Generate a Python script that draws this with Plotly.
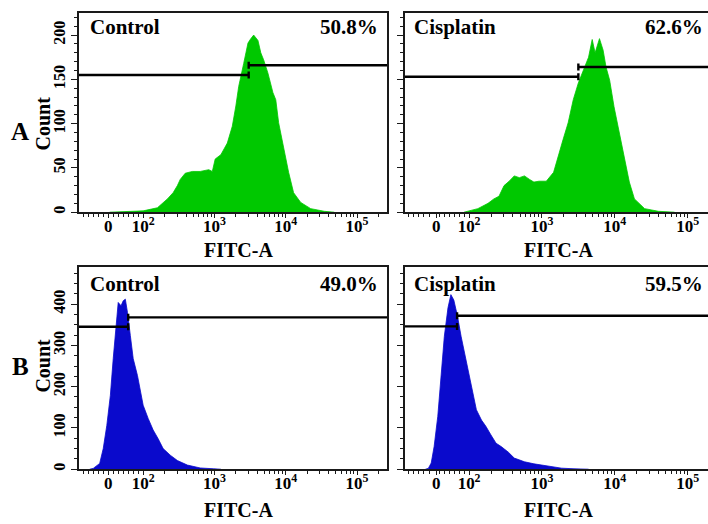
import math
import plotly.graph_objects as go

# ---------------- data (x = position on biexponential FITC-A axis, in decades) ----------------
a_ctrl_pos = [1.53, 1.86, 2.00, 2.20, 2.34, 2.42, 2.48, 2.52, 2.59, 2.69, 2.80, 2.92, 2.97, 3.01, 3.09,
              3.18, 3.25, 3.30, 3.34, 3.41, 3.47, 3.51, 3.55, 3.61, 3.65, 3.69, 3.75, 3.82, 3.86, 3.90,
              3.97, 4.04, 4.11, 4.21, 4.35, 4.54, 4.68]
a_ctrl_cnt = [0, 1, 1.5, 5, 15, 22, 30, 37, 44, 46, 46, 48, 46, 60, 65,
              78, 97, 120, 142, 168, 191, 196, 200, 194, 180, 172, 157, 135, 127, 101,
              71, 45, 22, 11, 4, 1, 0]

a_cis_pos = [1.93, 2.12, 2.26, 2.34, 2.41, 2.48, 2.55, 2.62, 2.69, 2.76, 2.83, 2.89, 2.96, 3.06, 3.16,
             3.22, 3.29, 3.36, 3.43, 3.50, 3.57, 3.64, 3.69, 3.73, 3.79, 3.84, 3.88, 3.93, 3.99, 4.06,
             4.13, 4.20, 4.27, 4.41, 4.60, 4.82]
a_cis_cnt = [0, 4, 10, 15, 18, 30, 35, 41, 39, 41, 37, 34, 35, 35, 45,
             63, 82, 101, 127, 146, 161, 175, 195, 180, 196, 183, 164, 149, 119, 90,
             60, 34, 15, 4, 1, 0]

b_ctrl_pos = [1.25, 1.30, 1.39, 1.44, 1.49, 1.54, 1.58, 1.62, 1.65, 1.69, 1.72, 1.75, 1.78, 1.82,
              1.86, 1.92, 1.96, 2.00, 2.07, 2.14, 2.21, 2.28, 2.38, 2.48, 2.62, 2.80, 2.99, 3.09]
b_ctrl_cnt = [0, 2, 14, 50, 106, 179, 268, 355, 404, 396, 408, 412, 380, 324,
              268, 227, 195, 155, 123, 95, 74, 50, 34, 21, 10, 3, 1, 0]

b_cis_pos = [1.40, 1.44, 1.48, 1.52, 1.57, 1.62, 1.66, 1.71, 1.75, 1.79, 1.84, 1.89, 1.96, 2.03,
             2.10, 2.17, 2.23, 2.30, 2.37, 2.44, 2.54, 2.62, 2.76, 2.89, 3.09, 3.27, 3.44, 3.64]
b_cis_cnt = [0, 2, 15, 55, 128, 225, 322, 391, 423, 410, 371, 322, 265, 209,
             144, 119, 104, 83, 63, 55, 41, 27, 18, 13, 7, 2.5, 1, 0]

panel_names = ["Control", "Cisplatin", "Control", "Cisplatin"]
panel_pcts = ["50.8%", "62.6%", "49.0%", "59.5%"]
# gate marker: position, left-bar level, right-bar level
gate_pos = [3.48, 3.50, 1.79, 1.835]
gate_left = [155, 153, 345, 346]
gate_right = [166, 164, 368, 372]

tick_labels = ["0", "10<sup>2</sup>", "10<sup>3</sup>", "10<sup>4</sup>", "10<sup>5</sup>"]

# ---------------- layout constants ----------------
W, H = 708, 524
FONT = "Liberation Serif"
GREEN = "#00c800"
BLUE = "#0a0acc"
AXC = "#1a1a1a"

xdom_l = [79 / W, 387 / W]
xdom_r = [405 / W, 1.0]
ydom_t = [1 - 213 / H, 1 - 13 / H]
ydom_b = [1 - 471 / H, 1 - 268 / H]
xrng_l = [1.10, 5.42]
xrng_r = [1.12, 5.28]
yrng_a = [0, 225]
yrng_b = [0, 490]
zero_l, zero_r = 1.51, 1.55

series = [
    (a_ctrl_pos, a_ctrl_cnt, GREEN, "x", "y", xrng_l, 4),
    (a_cis_pos, a_cis_cnt, GREEN, "x2", "y2", xrng_r, 4),
    (b_ctrl_pos, b_ctrl_cnt, BLUE, "x3", "y3", xrng_l, 8.5),
    (b_cis_pos, b_cis_cnt, BLUE, "x4", "y4", xrng_r, 8.5),
]

fig = go.Figure()
for i, (xs, ys, col, xa, ya, xr, cap) in enumerate(series):
    fig.add_trace(go.Scatter(x=xs, y=ys, mode="lines", fill="tozeroy",
                             line=dict(color=col, width=0.8), fillcolor=col,
                             xaxis=xa, yaxis=ya, showlegend=False, hoverinfo="skip"))
    g, yl, yr = gate_pos[i], gate_left[i], gate_right[i]
    gx = [xr[0], g, None, g, g, None, g, xr[1], None, g, g]
    gy = [yl, yl, None, yl - cap, yl + cap, None, yr, yr, None, yr - cap, yr + cap]
    fig.add_trace(go.Scatter(x=gx, y=gy, mode="lines", line=dict(color="black", width=2.4),
                             xaxis=xa, yaxis=ya, showlegend=False, hoverinfo="skip",
                             cliponaxis=False))


def minor_x():
    vals = [1.17, 1.24, 1.31, 1.38, 1.45, 1.59, 1.66, 1.73, 1.80, 1.87, 1.93]
    for n in range(2, 6):
        for k in range(2, 10):
            vals.append(math.log10(k * 10 ** n))
    return vals


tickfont = dict(family=FONT, size=17, color="black", weight="bold")


def xaxis(dom, rng, anchor, zero):
    return dict(domain=dom, range=rng, anchor=anchor, showline=True, linecolor=AXC, linewidth=1.5,
                mirror=True, showgrid=False, zeroline=False, ticks="outside", ticklen=4,
                tickwidth=1.2, tickcolor=AXC, tickmode="array", ticklabelstandoff=-6,
                tickvals=[zero, 2, 3, 4, 5], ticktext=tick_labels, tickfont=tickfont,
                minor=dict(tickmode="array", tickvals=minor_x(), ticks="outside", ticklen=3,
                           tickwidth=1, tickcolor=AXC))


def yaxis(dom, rng, anchor, dt, mdt, labels, mirror):
    return dict(domain=dom, range=rng, anchor=anchor, showline=True, linecolor=AXC, linewidth=1.5,
                mirror=mirror, showgrid=False, zeroline=False, ticks="outside", ticklen=6,
                tickwidth=1.2, tickcolor=AXC, dtick=dt, tick0=0, showticklabels=labels,
                tickangle=-90, tickfont=dict(family=FONT, size=16, color="black", weight="bold"),
                minor=dict(dtick=mdt, ticks="outside", ticklen=3, tickwidth=1, tickcolor=AXC))


fig.update_layout(
    width=W, height=H, margin=dict(l=0, r=0, t=0, b=0),
    paper_bgcolor="white", plot_bgcolor="white",
    xaxis=xaxis(xdom_l, xrng_l, "y", zero_l),
    xaxis2=xaxis(xdom_r, xrng_r, "y2", zero_r),
    xaxis3=xaxis(xdom_l, xrng_l, "y3", zero_l),
    xaxis4=xaxis(xdom_r, xrng_r, "y4", zero_r),
    yaxis=yaxis(ydom_t, yrng_a, "x", 50, 10, True, True),
    yaxis2=yaxis(ydom_t, yrng_a, "x2", 50, 10, False, False),
    yaxis3=yaxis(ydom_b, yrng_b, "x3", 100, 25, True, True),
    yaxis4=yaxis(ydom_b, yrng_b, "x4", 100, 25, False, False),
)

lab = dict(family=FONT, size=21, color="black", weight="bold")
axes_ids = ["", "2", "3", "4"]
name_x = [0.029, 0.023, 0.029, 0.023]
pct_x = [0.976, 0.99, 0.976, 0.99]
text_y = [0.93, 0.93, 0.916, 0.916]
for i, a in enumerate(axes_ids):
    fig.add_annotation(text=panel_names[i], xref=f"x{a} domain", yref=f"y{a} domain",
                       x=name_x[i], y=text_y[i], xanchor="left", yanchor="middle",
                       showarrow=False, font=lab)
    fig.add_annotation(text=panel_pcts[i], xref=f"x{a} domain", yref=f"y{a} domain",
                       x=pct_x[i], y=text_y[i], xanchor="right", yanchor="middle",
                       showarrow=False, font=lab)

# axis titles and panel letters
for xc in (238 / W, 558 / W):
    for yc in (1 - 251 / H, 1 - 512 / H):
        fig.add_annotation(text="FITC-A", xref="paper", yref="paper", x=xc, y=yc,
                           xanchor="center", yanchor="middle", showarrow=False,
                           font=dict(family=FONT, size=20, color="black", weight="bold"))
for yc in (1 - 124 / H, 1 - 367 / H):
    fig.add_annotation(text="Count", xref="paper", yref="paper", x=43 / W, y=yc, textangle=-90,
                       xanchor="center", yanchor="middle", showarrow=False,
                       font=dict(family=FONT, size=20, color="black", weight="bold"))
for t, yc in (("A", 1 - 132 / H), ("B", 1 - 368 / H)):
    fig.add_annotation(text=t, xref="paper", yref="paper", x=20 / W, y=yc,
                       xanchor="center", yanchor="middle", showarrow=False,
                       font=dict(family=FONT, size=25, color="black", weight="bold"))

fig.write_html("out.html")
